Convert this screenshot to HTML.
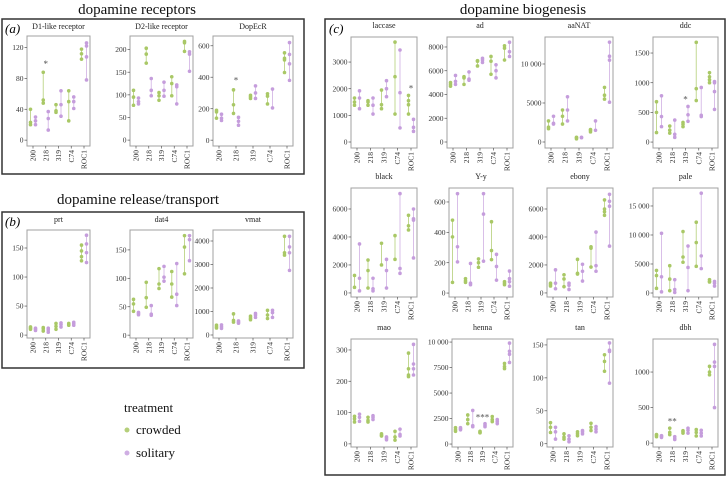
<!DOCTYPE html>
<html><head><meta charset="utf-8">
<style>
html,body{margin:0;padding:0;background:#fff;}
body{width:728px;height:478px;overflow:hidden;}
svg{display:block;font-family:"Liberation Serif",serif;}
</style></head>
<body>
<svg id="chart" width="728" height="478" viewBox="0 0 728 478" xmlns="http://www.w3.org/2000/svg">
<text x="137" y="14" font-size="15" text-anchor="middle" fill="#111">dopamine receptors</text>
<text x="523" y="14" font-size="15" text-anchor="middle" fill="#111">dopamine biogenesis</text>
<text x="138" y="204" font-size="15" text-anchor="middle" fill="#111">dopamine release/transport</text>
<rect x="2" y="19" width="302" height="155" fill="none" stroke="#333" stroke-width="1.5"/>
<rect x="2" y="212" width="302" height="156" fill="none" stroke="#333" stroke-width="1.5"/>
<rect x="325" y="19" width="400" height="456" fill="none" stroke="#333" stroke-width="1.5"/>
<text x="5" y="33" font-size="13" font-style="italic">(a)</text>
<text x="5" y="226" font-size="13" font-style="italic">(b)</text>
<text x="329" y="33" font-size="13" font-style="italic">(c)</text>
<g>
<text x="124" y="412" font-size="13" fill="#111">treatment</text>
<circle cx="127" cy="430" r="2.5" fill="#b5cf7a"/>
<text x="136" y="434" font-size="13" fill="#111">crowded</text>
<circle cx="127" cy="453" r="2.5" fill="#cfaee3"/>
<text x="136" y="457" font-size="13" fill="#111">solitary</text>
</g>
</svg>
<script>
const categories = ["200","218","319","C74","ROC1"];
const panelNames = ["D1-like receptor","D2-like receptor","DopEcR","prt","dat4","vmat","laccase","ad","aaNAT","ddc","black","Y-y","ebony","pale","mao","henna","tan","dbh"];
const domains = [[-7.6,135],[-13,230],[-37,662],[-5,181],[-5,185],[-128,4468],[-225,3940],[-505,8840],[-770,13460],[-100,1770],[-290,7500],[-26,692],[-290,7500],[-690,18100],[-10,335],[-290,10300],[-5,159],[-55,1465]];
const tickValues = [[0,40,80,120],[0,50,100,150,200],[0,200,400,600],[0,50,100,150],[0,50,100,150],[0,1000,2000,3000,4000],[0,1000,2000,3000],[0,2000,4000,6000,8000],[0,5000,10000],[0,500,1000,1500],[0,2000,4000,6000],[0,200,400,600],[0,2000,4000,6000],[0,5000,10000,15000],[0,100,200,300],[0,2500,5000,7500,10000],[0,50,100,150],[0,500,1000]];
const tickLabels = [["0","40","80","120"],["0","50","100","150","200"],["0","200","400","600"],["0","50","100","150"],["0","50","100","150"],["0","1000","2000","3000","4000"],["0","1000","2000","3000"],["0","2000","4000","6000","8000"],["0","5000","10 000"],["0","500","1000","1500"],["0","2000","4000","6000"],["0","200","400","600"],["0","2000","4000","6000"],["0","5000","10 000","15 000"],["0","100","200","300"],["0","2500","5000","7500","10 000"],["0","50","100","150"],["0","500","1000"]];
const crowded = [
 [[20,23,40],[48,52,88],[36,38,46],[25,50,64],[105,112,118]],
 [[77,95,110],[170,190,203],[88,98,105],[98,125,140],[196,215,218]],
 [[140,180,190],[170,225,320],[265,275,285],[230,280,295],[430,510,520,555]],
 [[10,12,14],[7,11,13],[10,15,20],[17,19,20],[128,135,145,155]],
 [[42,55,63],[49,66,93],[82,90,117],[67,90,112],[108,155,175]],
 [[300,350,420],[550,620,900],[650,720,800],[700,850,1050],[3400,3500,4200]],
 [[1380,1500,1650],[1380,1500,1550],[1250,1400,1950],[1050,2450,3750],[1050,1400,1550,1750]],
 [[4700,4850,5000],[4850,5400,5500],[6400,6800,6850],[5700,6800,7200],[6900,7900,8100]],
 [[1700,1900,2700],[2300,3300,4100],[400,550,600],[1300,1500,1600],[5500,6000,7000]],
 [[160,500,680],[150,200,270],[260,300,330],[700,900,1680],[1000,1050,1100,1170]],
 [[400,1250],[350,1600,2350],[2000,3550],[2400,4100],[4500,4800,5550]],
 [[70,370,480],[70,80,95],[170,200,225],[220,280,470],[55,65,75]],
 [[500,600,700],[450,1000,1300],[1350,1400,2400],[1850,3200,3300],[5550,5800,6000,6650]],
 [[800,3000,3900],[400,2400,4700],[5300,6200,10600],[4600,8700,12200],[1900,2000,2300]],
 [[70,80,88],[70,75,85],[25,28,32],[12,22,40],[215,220,240,290]],
 [[1250,1400,1600],[2000,2400,2850],[1100,1150,1250],[2200,2400,2700],[7400,7600,7900]],
 [[17,25,32],[7,10,15],[12,15,18],[20,25,31],[110,125,135]],
 [[90,110,120],[120,150,210],[140,160,175],[100,150,190],[960,1000,1080]]
];
const solitary = [
 [[20,25,30],[13,28,37],[31,46,64],[41,50,56],[78,108,122,126]],
 [[80,85,93],[98,110,136],[97,110,128],[80,118,122],[152,190,195]],
 [[125,140,165],[95,120,145],[265,300,345],[205,325],[380,485,545,620]],
 [[8,10,12],[5,9,12],[14,18,21],[17,20,22],[125,142,157,172]],
 [[36,38,40],[35,37,52],[95,102,121],[52,72,126],[131,168,175]],
 [[280,350,430],[500,550,600],[750,850,920],[750,950,1050],[2750,3500,3750,4200]],
 [[1250,1650,1920],[1050,1380,1650],[1700,2000,2300],[530,1850,3450],[400,550,850]],
 [[4850,5100,5600],[5200,5300,5900],[6700,6900,7050],[5400,6000,6500],[7200,7600,8400]],
 [[2300,2400,3300],[2700,4100,5800],[550,600],[1500,2700],[5100,10500,11000,12800]],
 [[260,430,780],[80,130,370],[350,460,600],[430,450,920],[550,850,1000,1020]],
 [[150,1050,3500],[150,300,1050],[350,1600,2400],[1400,1750,7100],[2500,5200,5300,6000]],
 [[205,305,655],[55,65,195],[210,520,655],[85,175,255],[45,75,95,145]],
 [[300,700,1650],[250,550,700],[850,1550,2050],[1550,1950,4350],[3350,6200,6550,7050]],
 [[200,2800,10300],[100,600,2300],[400,4400,8100],[4200,6400,17200],[1200,1700,2000]],
 [[72,85,95],[78,85,90],[13,18,22],[25,30,47],[220,240,255,318]],
 [[1400,1500,1600],[1700,1800,3300],[1700,1850,2000],[2000,2200,2400],[8000,8800,9100,9900]],
 [[7,18,25],[3,7,12],[15,18,20],[18,22,26],[92,140,142,153]],
 [[80,95,105],[50,60,90],[140,180,210],[100,140,180],[500,1080,1140,1390]]
];
// significance markers: [panelIndex, categoryIndex, value, label]
const stars = [[0,1,100,"*"],[2,1,385,"*"],[6,4,2050,"*"],[9,2,730,"*"],[15,2,2700,"***"],[17,1,320,"**"]];

// layout (pixel boxes) — not data
const layout = [
 [27,36,63,110],[130,36,63,110],[213,36,80,110],
 [27,230,63,108],[130,230,63,108],[213,230,80,108],
 [351,37,66,111],[447,37,66,111],[545,37,68,111],[653,37,65,111],
 [351,188,66,109],[449,188,64,109],[547,188,66,109],[653,188,65,109],
 [351,339,66,108],[452,339,61,108],[547,339,66,108],[653,339,65,108]
];
const titleY = [29,29,29,222,222,222,28,28,28,28,179,179,179,179,330,330,330,330];
const NS = "http://www.w3.org/2000/svg";
const svg = document.getElementById("chart");
const GREEN = "#a9c866", GREENL = "#c3d893", PURP = "#c59ddc", PURPL = "#d9bfe8";
function mk(tag, attrs, parent){
  const e = document.createElementNS(NS, tag);
  for (const k in attrs) e.setAttribute(k, attrs[k]);
  (parent||svg).appendChild(e);
  return e;
}
function slug(s){return s.toLowerCase().replace(/[^a-z0-9]+/g,'-').replace(/^-|-$/g,'');}

panelNames.forEach((name, p) => {
  const [px, py, pw, ph] = layout[p];
  const [d0, d1] = domains[p];
  const yS = v => py + ph - (v - d0) / (d1 - d0) * ph;
  const xS = i => px + 6 + i * (pw - 12) / (categories.length - 1);
  const g = mk("g", {});
  
  
  const t = mk("text", {x: px + pw/2, y: titleY[p], "font-size": 8, "text-anchor": "middle", fill: "#222"}, g);
  
  
  t.textContent = name;
  const fr = mk("rect", {x: px, y: py, width: pw, height: ph, fill: "#fff", stroke: "#a0a0a0", "stroke-width": 1}, g);
  
  
  tickValues[p].forEach((v, k) => {
    const y = yS(v);
    const tk = mk("line", {x1: px - 2.5, x2: px, y1: y, y2: y, stroke: "#555", "stroke-width": 0.7}, g);
    
    
    const tl = mk("text", {x: px - 3.5, y: y + 2.6, "font-size": 7.5, "text-anchor": "end", fill: "#333"}, g);
    
    
    tl.textContent = tickLabels[p][k];
  });
  categories.forEach((c, i) => {
    const x = xS(i);
    const tk = mk("line", {x1: x, x2: x, y1: py + ph, y2: py + ph + 2.5, stroke: "#555", "stroke-width": 0.7}, g);
    
    
    const tl = mk("text", {x: 0, y: 0, "font-size": 7.5, "text-anchor": "end", fill: "#333",
      transform: "translate(" + (x + 2.6) + "," + (py + ph + 4) + ") rotate(-90)"}, g);
    
    
    tl.textContent = c;
    [[crowded, -2.5, GREEN, GREENL, 'crowded'], [solitary, 2.5, PURP, PURPL, 'solitary']].forEach(([src, off, col, lcol, lab]) => {
      const vals = src[p][i];
      const xx = x + off;
      const mn = Math.min.apply(null, vals), mx = Math.max.apply(null, vals);
      const ln = mk("line", {x1: xx, x2: xx, y1: yS(mn), y2: yS(mx), stroke: lcol, "stroke-width": 1}, g);
      
      
      vals.forEach(v => {
        const pt = mk("circle", {cx: xx, cy: yS(v), r: 1.8, fill: col}, g);
        
        
      });
    });
  });
});
stars.forEach(([p, i, v, lab]) => {
  const [px, py, pw, ph] = layout[p];
  const [d0, d1] = domains[p];
  const x = px + 6 + i * (pw - 12) / (categories.length - 1);
  const y = py + ph - (v - d0) / (d1 - d0) * ph;
  const s = mk("text", {x: x, y: y + 4, "font-size": 9, "text-anchor": "middle", fill: "#555"});
  
  
  s.textContent = lab;
});
</script>
</body></html>
